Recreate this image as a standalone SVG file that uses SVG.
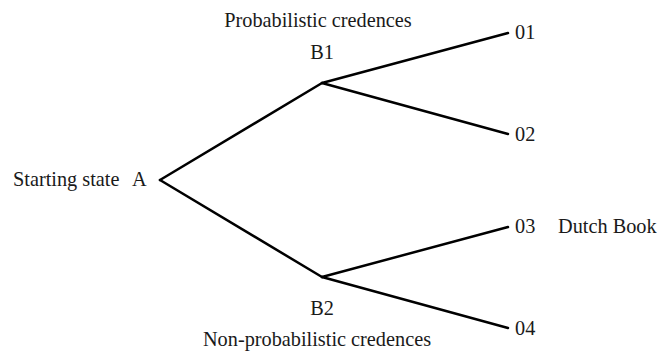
<svg xmlns="http://www.w3.org/2000/svg" width="657" height="351" viewBox="0 0 657 351">
<style>
text{font-family:"Liberation Serif","DejaVu Serif",serif;font-size:20.3px;fill:#1a1a1a}
.c{text-anchor:middle}
line{stroke:#000;stroke-width:2.5;stroke-linecap:round}
</style>
<rect width="657" height="351" fill="#fff"/>
<g id="connectors">
<line x1="160" y1="180" x2="322" y2="83"/>
<line x1="160" y1="180" x2="322" y2="277"/>
<line x1="322" y1="83" x2="508" y2="33"/>
<line x1="322" y1="83" x2="508" y2="134"/>
<line x1="322" y1="277" x2="508" y2="227"/>
<line x1="322" y1="277" x2="508" y2="328"/>
</g>
<g id="nodeA"><text x="13" y="186">Starting state</text><text x="132" y="186">A</text></g>
<g id="nodeB1"><text class="c" x="318" y="27">Probabilistic credences</text><text class="c" x="322" y="59">B1</text></g>
<g id="nodeB2"><text class="c" x="322" y="315">B2</text><text class="c" x="317" y="346">Non-probabilistic credences</text></g>
<g id="node01"><text x="515" y="39">01</text></g>
<g id="node02"><text x="515" y="141">02</text></g>
<g id="node03"><text x="515" y="233">03</text><text x="558" y="233">Dutch Book</text></g>
<g id="node04"><text x="515" y="335">04</text></g>
</svg>
